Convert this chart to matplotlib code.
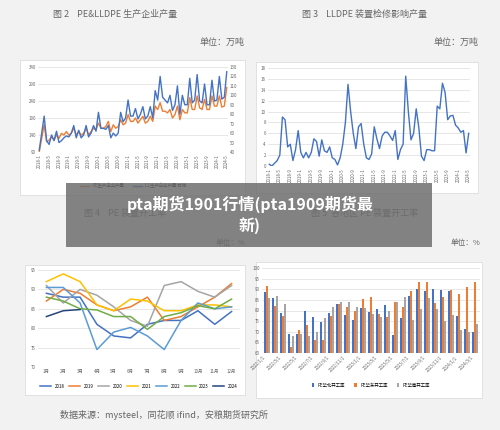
import matplotlib
matplotlib.use("Agg")
import matplotlib.pyplot as plt
from matplotlib.patches import Rectangle
import numpy as np

plt.rcParams['font.family'] = ['Noto Sans CJK SC', 'DejaVu Sans']

# ---- data ----
pe_out = [90, 130, 170, 120, 125, 135, 125, 140, 130, 145, 140, 150, 140, 145, 160, 140, 150, 140, 145, 160,
          140, 150, 160, 155, 175, 160, 160, 165, 180, 150, 170, 160, 165, 185, 170, 175, 200, 180, 180, 190,
          175, 185, 195, 175, 180, 195, 180, 225, 215, 235, 210, 210, 205, 215, 190, 200, 225, 185, 215, 205,
          205, 250, 215, 215, 255, 220, 215, 245, 215, 215, 255, 225, 225, 255, 222, 225, 280]
lldpe_out = [42, 60, 78, 52, 48, 58, 52, 62, 50, 52, 55, 57, 56, 60, 68, 55, 63, 55, 58, 68,
             56, 60, 68, 62, 82, 65, 65, 64, 68, 55, 60, 57, 60, 82, 72, 76, 95, 78, 78, 86,
             75, 80, 88, 75, 78, 88, 76, 105, 95, 120, 98, 95, 92, 100, 84, 90, 110, 80, 100, 90,
             90, 118, 92, 95, 122, 94, 92, 112, 90, 90, 116, 94, 95, 120, 96, 98, 125]
maint = [0.3, 0, 0.5, 1, 2, 9, 8.5, 3.5, 4, 1, 3, 6.5, 2.5, 1.5, 2.5, 1.5, 2.5, 5, 4.5, 1.8,
         4.8, 2.8, 2.5, 3.5, 1.5, 1.2, 0.2, 1.5, 4, 8, 15, 10, 6, 3.2, 7.2, 7.8, 4, 1.5, 1.2, 2.2,
         7.2, 5, 3.2, 5.5, 6.2, 6.2, 5.5, 4.7, 6.5, 1.2, 3, 4, 16.5, 10, 4.8, 6, 10.5, 7, 1.8, 1,
         3, 3, 2.8, 2.8, 11, 10.5, 15.2, 13.5, 8.5, 9.2, 9.3, 7.5, 7, 6.2, 6.5, 2.4, 6]

months = [f"{m}月" for m in range(1, 13)]
years = ["2018", "2019", "2020", "2021", "2022", "2023", "2024"]
rate_2018 = [89, 88, 88, 81, 78, 77.5, 81, 82, 82, 84.5, 81, 84.3]
rate_2019 = [87, 90, 89, 86, 84.5, 85.5, 88, 82, 83, 85.5, 88, 91.5]
rate_2020 = [91, 86.5, 90, 88.5, 85.5, 82, 80.5, 91, 92, 89.5, 88, 91]
rate_2021 = [92, 94, 92, 86, 84.5, 87.5, 87, 84.5, 84.5, 86, 86, 85.5]
rate_2022 = [90.5, 90.5, 86.5, 74.5, 79, 80.2, 78, 74.5, 82, 86.5, 85, 85.5]
rate_2023 = [88, 87, 85, 84.7, 83, 83, 79.7, 83, 84, 85.8, 85, 87.5]
rate_2024 = [83, 84.5, 84.8]
year_colors = ["#4472c4", "#ed7d31", "#a5a5a5", "#ffc000", "#5b9bd5", "#70ad47", "#264478"]

north = [88.5, 86, 78.8, 69, 69, 80, 77, 74.5, 79, 83, 78, 75.5, 81, 79.5, 80.5, 82.5, 68.5, 76.5,
         87, 90, 89, 90, 89.5, 89, 77.5, 71.5, 70]
east = [91.5, 82, 77.5, 63, 71, 73, 66, 66, 77.5, 83, 81.5, 80, 85.5, 86.5, 78.5, 77, 84, 81.5,
        89, 93.5, 93.5, 83.5, 86.5, 89.5, 88, 91, 93.5]
south = [86, 87, 83, 68, 69, 68, 70, 76.5, 81.5, 84, 84, 81.5, 81, 78.5, 77, 80, 84, 86.5,
         75.5, 80.5, 86, 80.5, 75, 78, 71, 70, 73.5]
region_labels = ["PE华北开工率", "PE华东开工率", "PE华南开工率"]

W, H = 500, 430
fig = plt.figure(figsize=(5, 4.3), dpi=100, facecolor="#f2f2f2")

def box(x0, y0, x1, y1):
    fig.patches.append(Rectangle((x0 / W, 1 - y1 / H), (x1 - x0) / W, (y1 - y0) / H,
                                 transform=fig.transFigure, facecolor="white",
                                 edgecolor="#dddddd", lw=0.6, zorder=-5))

def axes(x0, y0, x1, y1):
    ax = fig.add_axes([x0 / W, 1 - y1 / H, (x1 - x0) / W, (y1 - y0) / H])
    ax.set_facecolor("white")
    for s in ax.spines.values():
        s.set_visible(False)
    ax.tick_params(length=0, labelsize=3.2, colors="#666666", pad=1.5)
    ax.grid(axis="y", color="#e3e3e3", lw=0.6)
    ax.set_axisbelow(True)
    return ax

def txt(x, y, s, size=7, ha="center", **kw):
    fig.text(x / W, 1 - y / H, s, fontsize=size, ha=ha, va="center", color="#666666", **kw)

# titles
txt(115, 14, "图 2    PE&LLDPE 生产企业产量", 6.5)
txt(245, 42, "单位：万吨", 6.5, ha="right")
txt(365, 14, "图 3    LLDPE 装置检修影响产量", 6.5)
txt(478, 42, "单位：万吨", 6.5, ha="right")
txt(125, 213, "图 4    PE 装置开工率", 6.5)
txt(365, 213, "图 5  各地区 PE 装置开工率", 6.5)
txt(245, 243, "单位：%", 5.5, ha="right")
txt(480, 243, "单位：%", 5.5, ha="right")
txt(60, 415, "数据来源：mysteel，同花顺 ifind，安粮期货研究所", 6.5, ha="left")

# panel 1
box(20, 60, 245, 195)
ax1 = axes(38, 67, 228, 152)
x = np.arange(len(pe_out))
ax1.plot(x, pe_out, color="#ed7d31", lw=1)
ax1.set_ylim(90, 340)
ax1.set_yticks(range(90, 341, 50))
ax1.set_xlim(-0.5, len(x) - 0.5)
tick_lbl = [f"{2018 + i // 12}-{i % 12 + 1}" for i in range(0, len(x), 4)]
ax1.set_xticks(range(0, len(x), 4))
ax1.set_xticklabels(tick_lbl, rotation=90)
ax1r = ax1.twinx()
for s in ax1r.spines.values():
    s.set_visible(False)
ax1r.plot(x, lldpe_out, color="#4472c4", lw=1)
ax1r.set_ylim(40, 130)
ax1r.set_yticks(range(40, 131, 10))
ax1r.tick_params(length=0, labelsize=3.2, colors="#666666", pad=1.5)
ax1.legend(handles=[ax1.lines[0], ax1r.lines[0]], labels=["PE生产企业产量", "LL生产企业产量 右轴"],
           loc="upper center", bbox_to_anchor=(0.5, -0.32), ncol=2, fontsize=3.2, frameon=False)

# panel 2
box(256, 62, 478, 193)
ax2 = axes(268, 68, 470, 166)
x2 = np.arange(len(maint))
ax2.plot(x2, maint, color="#4472c4", lw=1)
ax2.set_ylim(0, 18)
ax2.set_yticks(range(0, 19, 2))
ax2.set_xlim(-0.5, len(x2) - 0.5)
ax2.set_xticks(range(0, len(x2), 4))
ax2.set_xticklabels([f"{2018 + i // 12}-{i % 12 + 1}" for i in range(0, len(x2), 4)], rotation=90)

# panel 3
box(25, 265, 245, 395)
ax3 = axes(38, 270, 240, 367)
for yr, vals, c in zip(years, [rate_2018, rate_2019, rate_2020, rate_2021, rate_2022, rate_2023, rate_2024], year_colors):
    ax3.plot(months[:len(vals)], vals, color=c, lw=1.1, label=yr)
ax3.set_ylim(70, 95)
ax3.set_yticks(range(70, 96, 5))
ax3.set_xlim(-0.5, 11.5)
ax3.legend(loc="upper center", bbox_to_anchor=(0.5, -0.13), ncol=7, fontsize=3.2,
           frameon=False, handlelength=2.5, columnspacing=1)

# panel 4
box(256, 262, 482, 398)
ax4 = axes(262, 268, 480, 353)
xb = np.arange(len(north))
bw = 0.27
for off, vals, c, lab in zip([-bw, 0, bw], [north, east, south], ["#4472c4", "#ed7d31", "#a5a5a5"], region_labels):
    ax4.bar(xb + off, vals, bw, color=c, label=lab)
ax4.set_ylim(60, 100)
ax4.set_yticks(range(60, 101, 5))
ax4.set_xlim(-0.6, len(xb) - 0.4)
ax4.set_xticks(range(0, len(xb), 2))
ax4.set_xticklabels([f"{2022 + i // 12}/{i % 12 + 1}/1" for i in range(0, len(xb), 2)], rotation=45, ha="right")
ax4.legend(loc="upper center", bbox_to_anchor=(0.5, -0.3), ncol=3, fontsize=3.2, frameon=False,
           handlelength=0.6)

# overlay banner
fig.patches.append(Rectangle((66 / W, 1 - 247 / H), 366 / W, 64 / H, transform=fig.transFigure,
                             facecolor="#6e6e6e", alpha=0.85, zorder=10))
fig.text(250 / W, 1 - 215 / H, "pta期货1901行情(pta1909期货最\n新)", fontsize=11.5, fontweight="bold",
         color="white", ha="center", va="center", zorder=11, linespacing=1.3)

fig.savefig("out.png", dpi=100, facecolor=fig.get_facecolor())
